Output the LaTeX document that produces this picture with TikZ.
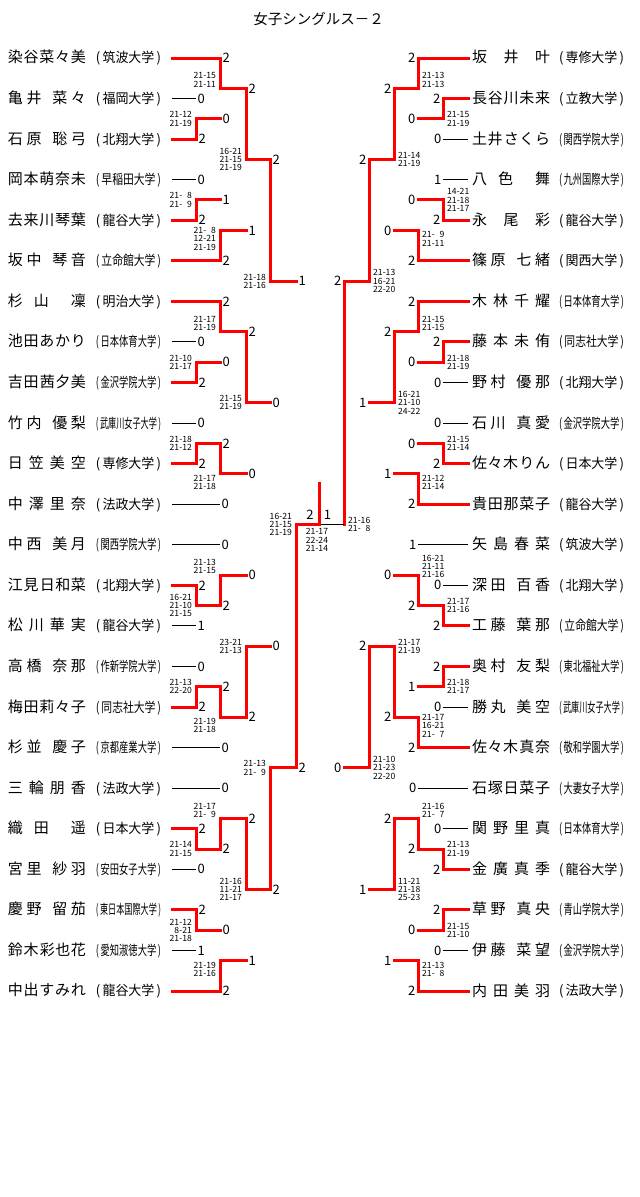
\documentclass[tikz,border=0pt]{standalone}
\usepackage{fontspec}
\usepackage{graphicx}
\setmainfont{Noto Sans CJK JP}
\usetikzlibrary{calc}
\pgfdeclarelayer{bg}
\pgfsetlayers{bg,main}

\tikzset{
  ln/.style={black, line width=1pt},
  win/.style={red, line width=3pt, line cap=rect},
  pl/.style={anchor=west, inner sep=0pt, outer sep=0pt, font=\fontsize{15}{15}\selectfont},
  sc/.style={inner sep=1.2pt, text=black, font=\fontsize{13}{13}\selectfont},
  gsc/.style={inner sep=0pt, text=black, font=\fontsize{8.6}{8.2}\selectfont},
  hi/.style={yshift=8.5pt},
  lo/.style={yshift=-8.5pt}
}

% name layouts
\newcommand\gp{\hfill}
\newcommand\nmE[5]{#1\gp#2\gp#3\gp#4\gp#5}
\newcommand\nmD[5]{#1\gp#2\gp\gp#3\gp#4\gp#5}
\newcommand\nmF[5]{#1\gp#2\gp#3\gp\gp#4\gp#5}
\newcommand\nmA[4]{#1\gp#2\gp\gp\gp#3\gp#4}
\newcommand\nmB[4]{#1\gp#2\gp#3\gp#4}
\newcommand\nmC[3]{#1\gp#2\gp#3}
\newcommand\nmT[3]{#1\gp#2\gp\gp#3}
\newcommand\uni[1]{\resizebox{65pt}{\height}{\fontsize{13.5}{13.5}\selectfont(\,#1\,)}}
\newcommand\zz{\phantom{1}}

% one bout: name, top, bottom, column, next column, winner, games won
\newcommand\bout[8][win]{%
  \coordinate (#2m) at ($(#3)!.5!(#4)$);
  \begin{pgfonlayer}{bg}\draw[ln] (#3 -| #5) -- (#4 -| #5);\end{pgfonlayer}
  \draw[win] (#7 -| #5) -- (#2m -| #5);
  \draw[#1] (#2m -| #5) -- (#2m -| #6) coordinate (#2) node[dg] (d#2) {#8};}
\newcommand\pline[4][ln]{\draw[#1] (#2) -- (#2 -| #3) node[dg] (d#2) {#4};}
\newcommand\gl[4][]{\node[gs,#1] (g#2) at (#2m -| #3) {#4};}

\begin{document}
\begin{tikzpicture}[x=1pt,y=-1pt]
\fill[white] (0,0) rectangle (640,1197);
\useasboundingbox (0,0) rectangle (640,1197);
\node[font=\fontsize{14.5}{14.5}\selectfont] (title) at (318.5,19) {女子シングルス－２};

% columns
\foreach \n/\x in {a1/196,a2/220,a3/246,a4/270,a5/296,fc/319,b1/443,b2/418,b3/394,b4/369,b5/344}
  \coordinate (\n) at (\x,0);

% players
\foreach \pn/\pu [count=\i] in {\nmE{染}{谷}{菜}{々}{美}/筑波大学, \nmA{亀}{井}{菜}{々}/福岡大学,
  \nmA{石}{原}{聡}{弓}/北翔大学, \nmE{岡}{本}{萌}{奈}{未}/早稲田大学,
  \nmE{去}{来}{川}{琴}{葉}/龍谷大学, \nmA{坂}{中}{琴}{音}/立命館大学,
  \nmT{杉}{山}{凜}/明治大学, \nmE{池}{田}{あ}{か}{り}/日本体育大学,
  \nmD{吉}{田}{茜}{夕}{美}/金沢学院大学, \nmA{竹}{内}{優}{梨}/武庫川女子大学,
  \nmB{日}{笠}{美}{空}/専修大学, \nmB{中}{澤}{里}{奈}/法政大学,
  \nmA{中}{西}{美}{月}/関西学院大学, \nmD{江}{見}{日}{和}{菜}/北翔大学,
  \nmB{松}{川}{華}{実}/龍谷大学, \nmA{高}{橋}{奈}{那}/作新学院大学,
  \nmE{梅}{田}{莉}{々}{子}/同志社大学, \nmA{杉}{並}{慶}{子}/京都産業大学,
  \nmB{三}{輪}{朋}{香}/法政大学, \nmT{織}{田}{遥}/日本大学,
  \nmA{宮}{里}{紗}{羽}/安田女子大学, \nmA{慶}{野}{留}{茄}/東日本国際大学,
  \nmD{鈴}{木}{彩}{也}{花}/愛知淑徳大学, \nmE{中}{出}{す}{み}{れ}/龍谷大学}{
  \node[pl] (L\i) at (8,{58+40.565*(\i-1)}) {\makebox[78pt][s]{\pn}\hspace{10pt}\uni{\pu}};
  \coordinate (Ls\i) at ([xshift=11pt]L\i.east);
}
\foreach \pn/\pu [count=\i] in {\nmC{坂}{井}{叶}/専修大学, \nmE{長}{谷}{川}{未}{来}/立教大学,
  \nmD{土}{井}{さ}{く}{ら}/関西学院大学, \nmT{八}{色}{舞}/九州国際大学,
  \nmC{永}{尾}{彩}/龍谷大学, \nmA{篠}{原}{七}{緒}/関西大学,
  \nmB{木}{林}{千}{耀}/日本体育大学, \nmB{藤}{本}{未}{侑}/同志社大学,
  \nmA{野}{村}{優}{那}/北翔大学, \nmA{石}{川}{真}{愛}/金沢学院大学,
  \nmF{佐}{々}{木}{り}{ん}/日本大学, \nmE{貴}{田}{那}{菜}{子}/龍谷大学,
  \nmB{矢}{島}{春}{菜}/筑波大学, \nmA{深}{田}{百}{香}/北翔大学,
  \nmA{工}{藤}{葉}{那}/立命館大学, \nmA{奥}{村}{友}{梨}/東北福祉大学,
  \nmA{勝}{丸}{美}{空}/武庫川女子大学, \nmF{佐}{々}{木}{真}{奈}/敬和学園大学,
  \nmE{石}{塚}{日}{菜}{子}/大妻女子大学, \nmB{関}{野}{里}{真}/日本体育大学,
  \nmB{金}{廣}{真}{季}/龍谷大学, \nmA{草}{野}{真}{央}/青山学院大学,
  \nmA{伊}{藤}{菜}{望}/金沢学院大学, \nmB{内}{田}{美}{羽}/法政大学}{
  \node[pl] (R\i) at (472,{58+40.565*(\i-1)}) {\makebox[78pt][s]{\pn}\hspace{9pt}\uni{\pu}};
  \coordinate (Rs\i) at ([xshift=-4pt]R\i.west);
}

% left half
\begin{scope}[dg/.style={sc,anchor=west}, gs/.style={gsc,anchor=east,xshift=-4pt,align=right}]
\pline[win]{Ls1}{a2}{2}
\pline{Ls2}{a1}{0}
\pline[win]{Ls3}{a1}{2}
\pline{Ls4}{a1}{0}
\pline[win]{Ls5}{a1}{2}
\pline[win]{Ls6}{a2}{2}
\pline[win]{Ls7}{a2}{2}
\pline{Ls8}{a1}{0}
\pline[win]{Ls9}{a1}{2}
\pline{Ls10}{a1}{0}
\pline[win]{Ls11}{a1}{2}
\pline{Ls12}{a2}{0}
\pline{Ls13}{a2}{0}
\pline[win]{Ls14}{a1}{2}
\pline{Ls15}{a1}{1}
\pline{Ls16}{a1}{0}
\pline[win]{Ls17}{a1}{2}
\pline{Ls18}{a2}{0}
\pline{Ls19}{a2}{0}
\pline[win]{Ls20}{a1}{2}
\pline{Ls21}{a1}{0}
\pline[win]{Ls22}{a1}{2}
\pline{Ls23}{a1}{1}
\pline[win]{Ls24}{a2}{2}
\bout{la1}{L2}{L3}{a1}{a2}{L3}{0}
\bout{la2}{L1}{la1}{a2}{a3}{L1}{2}
\bout{la3}{L4}{L5}{a1}{a2}{L5}{1}
\bout{la4}{la3}{L6}{a2}{a3}{L6}{1}
\bout{la5}{la2}{la4}{a3}{a4}{la2}{2}
\bout{lb1}{L8}{L9}{a1}{a2}{L9}{0}
\bout{lb2}{L7}{lb1}{a2}{a3}{L7}{2}
\bout{lb3}{L10}{L11}{a1}{a2}{L11}{2}
\bout{lb4}{lb3}{L12}{a2}{a3}{lb3}{0}
\bout{lb5}{lb2}{lb4}{a3}{a4}{lb2}{0}
\bout{lh1}{la5}{lb5}{a4}{a5}{la5}{1}
\bout{lc1}{L14}{L15}{a1}{a2}{L14}{2}
\bout{lc2}{L13}{lc1}{a2}{a3}{lc1}{0}
\bout{lc3}{L16}{L17}{a1}{a2}{L17}{2}
\bout{lc4}{lc3}{L18}{a2}{a3}{lc3}{2}
\bout{lc5}{lc2}{lc4}{a3}{a4}{lc4}{0}
\bout{ld1}{L20}{L21}{a1}{a2}{L20}{2}
\bout{ld2}{L19}{ld1}{a2}{a3}{ld1}{2}
\bout{ld3}{L22}{L23}{a1}{a2}{L22}{0}
\bout{ld4}{ld3}{L24}{a2}{a3}{L24}{1}
\bout{ld5}{ld2}{ld4}{a3}{a4}{ld2}{2}
\bout{lh2}{lc5}{ld5}{a4}{a5}{ld5}{2}
\bout{ls}{lh1}{lh2}{a5}{fc}{lh2}{}
\gl{la1}{a1}{21-12\\21-19}
\gl[hi]{la2}{a2}{21-15\\21-11}
\gl{la3}{a1}{21-\zz8\\21-\zz9}
\gl[lo]{la4}{a2}{21-\zz8\\12-21\\21-19}
\gl{la5}{a3}{16-21\\21-15\\21-19}
\gl{lb1}{a1}{21-10\\21-17}
\gl[hi]{lb2}{a2}{21-17\\21-19}
\gl{lb3}{a1}{21-18\\21-12}
\gl[lo]{lb4}{a2}{21-17\\21-18}
\gl{lb5}{a3}{21-15\\21-19}
\gl{lh1}{a4}{21-18\\21-16}
\gl{lc1}{a1}{16-21\\21-10\\21-15}
\gl[hi]{lc2}{a2}{21-13\\21-15}
\gl{lc3}{a1}{21-13\\22-20}
\gl[lo]{lc4}{a2}{21-19\\21-18}
\gl{lc5}{a3}{23-21\\21-13}
\gl{ld1}{a1}{21-14\\21-15}
\gl[hi]{ld2}{a2}{21-17\\21-\zz9}
\gl{ld3}{a1}{21-12\\\zz8-21\\21-18}
\gl[lo]{ld4}{a2}{21-19\\21-16}
\gl{ld5}{a3}{21-16\\11-21\\21-17}
\gl{lh2}{a4}{21-13\\21-\zz9}
\gl{ls}{a5}{16-21\\21-15\\21-19}
\end{scope}

% right half
\begin{scope}[dg/.style={sc,anchor=east}, gs/.style={gsc,anchor=west,xshift=4pt,align=left}]
\pline[win]{Rs1}{b2}{2}
\pline[win]{Rs2}{b1}{2}
\pline{Rs3}{b1}{0}
\pline{Rs4}{b1}{1}
\pline[win]{Rs5}{b1}{2}
\pline[win]{Rs6}{b2}{2}
\pline[win]{Rs7}{b2}{2}
\pline[win]{Rs8}{b1}{2}
\pline{Rs9}{b1}{0}
\pline{Rs10}{b1}{0}
\pline[win]{Rs11}{b1}{2}
\pline[win]{Rs12}{b2}{2}
\pline{Rs13}{b2}{1}
\pline{Rs14}{b1}{0}
\pline[win]{Rs15}{b1}{2}
\pline[win]{Rs16}{b1}{2}
\pline{Rs17}{b1}{0}
\pline[win]{Rs18}{b2}{2}
\pline{Rs19}{b2}{0}
\pline{Rs20}{b1}{0}
\pline[win]{Rs21}{b1}{2}
\pline[win]{Rs22}{b1}{2}
\pline{Rs23}{b1}{0}
\pline[win]{Rs24}{b2}{2}
\bout{ra1}{R2}{R3}{b1}{b2}{R2}{0}
\bout{ra2}{R1}{ra1}{b2}{b3}{R1}{2}
\bout{ra3}{R4}{R5}{b1}{b2}{R5}{0}
\bout{ra4}{ra3}{R6}{b2}{b3}{R6}{0}
\bout{ra5}{ra2}{ra4}{b3}{b4}{ra2}{2}
\bout{rb1}{R8}{R9}{b1}{b2}{R8}{0}
\bout{rb2}{R7}{rb1}{b2}{b3}{R7}{2}
\bout{rb3}{R10}{R11}{b1}{b2}{R11}{0}
\bout{rb4}{rb3}{R12}{b2}{b3}{R12}{1}
\bout{rb5}{rb2}{rb4}{b3}{b4}{rb2}{1}
\bout{rh1}{ra5}{rb5}{b4}{b5}{ra5}{2}
\bout{rc1}{R14}{R15}{b1}{b2}{R15}{2}
\bout{rc2}{R13}{rc1}{b2}{b3}{rc1}{0}
\bout{rc3}{R16}{R17}{b1}{b2}{R16}{1}
\bout{rc4}{rc3}{R18}{b2}{b3}{R18}{2}
\bout{rc5}{rc2}{rc4}{b3}{b4}{rc4}{2}
\bout{rd1}{R20}{R21}{b1}{b2}{R21}{2}
\bout{rd2}{R19}{rd1}{b2}{b3}{rd1}{2}
\bout{rd3}{R22}{R23}{b1}{b2}{R22}{0}
\bout{rd4}{rd3}{R24}{b2}{b3}{R24}{1}
\bout{rd5}{rd2}{rd4}{b3}{b4}{rd2}{1}
\bout{rh2}{rc5}{rd5}{b4}{b5}{rc5}{0}
\bout[ln]{rs}{rh1}{rh2}{b5}{fc}{rh1}{}
\gl{ra1}{b1}{21-15\\21-19}
\gl[hi]{ra2}{b2}{21-13\\21-13}
\gl{ra3}{b1}{14-21\\21-18\\21-17}
\gl[lo]{ra4}{b2}{21-\zz9\\21-11}
\gl{ra5}{b3}{21-14\\21-19}
\gl{rb1}{b1}{21-18\\21-19}
\gl[hi]{rb2}{b2}{21-15\\21-15}
\gl{rb3}{b1}{21-15\\21-14}
\gl[lo]{rb4}{b2}{21-12\\21-14}
\gl{rb5}{b3}{16-21\\21-10\\24-22}
\gl{rh1}{b4}{21-13\\16-21\\22-20}
\gl{rc1}{b1}{21-17\\21-16}
\gl[hi]{rc2}{b2}{16-21\\21-11\\21-16}
\gl{rc3}{b1}{21-18\\21-17}
\gl[lo]{rc4}{b2}{21-17\\16-21\\21-\zz7}
\gl{rc5}{b3}{21-17\\21-19}
\gl{rd1}{b1}{21-13\\21-19}
\gl[hi]{rd2}{b2}{21-16\\21-\zz7}
\gl{rd3}{b1}{21-15\\21-10}
\gl[lo]{rd4}{b2}{21-13\\21-\zz8}
\gl{rd5}{b3}{11-21\\21-18\\25-23}
\gl{rh2}{b4}{21-10\\21-23\\22-20}
\gl{rs}{b5}{21-16\\21-\zz8}
\end{scope}

% final
\draw[win] (ls) -- ([yshift=41pt]ls) coordinate (champ);
\node[sc] (fl) at ([xshift=-9pt,yshift=9.5pt]ls) {2};
\node[sc] (fr) at ([xshift=8.5pt,yshift=9.5pt]ls) {1};
\node[gsc,align=center] (fs) at ([xshift=-2pt,yshift=-15.5pt]ls) {21-17\\22-24\\21-14};
\end{tikzpicture}
\end{document}
